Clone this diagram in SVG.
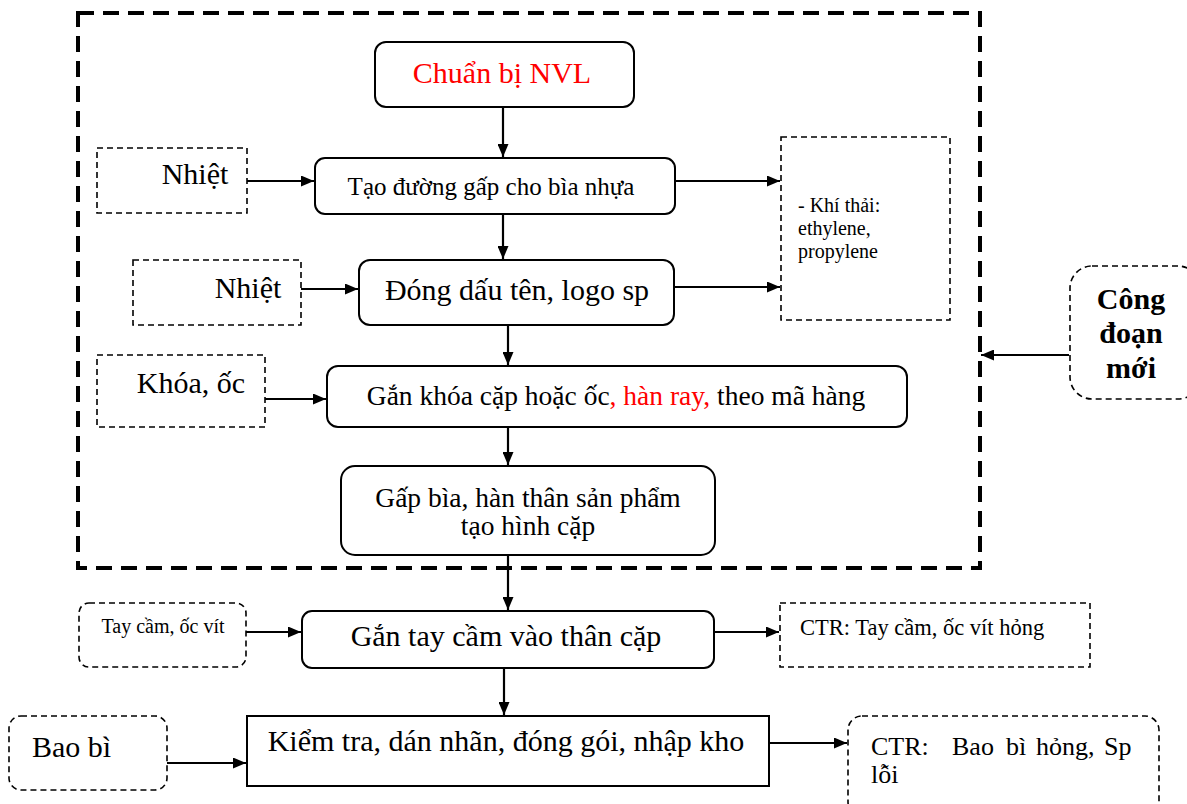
<svg xmlns="http://www.w3.org/2000/svg" width="1187" height="804" viewBox="0 0 1187 804">
<defs>
<marker id="ah" viewBox="0 0 13 11" refX="13" refY="5.5" markerWidth="13" markerHeight="11" markerUnits="userSpaceOnUse" orient="auto">
<path d="M0,0 L13,5.5 L0,11 Z" fill="#000"/>
</marker>
</defs>
<style>
text{font-family:"Liberation Serif","Times New Roman",serif;fill:#000}
.box{fill:#fff;stroke:#000;stroke-width:2}
.dbox{fill:#fff;stroke:#000;stroke-width:1.6;stroke-dasharray:6 4}
.frame{fill:none;stroke:#000;stroke-width:4;stroke-dasharray:16 9}
.c{stroke:#000;stroke-width:2.2;fill:none;marker-end:url(#ah)}
.red{fill:#f00}
.m{text-anchor:middle}
</style>
<rect width="1187" height="804" fill="#fff"/>
<g id="frame"><rect class="frame" x="78" y="13" width="902" height="555"/></g>

<g id="connectors">
<line class="c" x1="503" y1="107" x2="503" y2="157"/>
<line class="c" x1="247" y1="181" x2="314" y2="181"/>
<line class="c" x1="675" y1="181" x2="780" y2="181"/>
<line class="c" x1="503" y1="214" x2="503" y2="259"/>
<line class="c" x1="301" y1="289" x2="358" y2="289"/>
<line class="c" x1="675" y1="287" x2="780" y2="287"/>
<line class="c" x1="508" y1="325" x2="508" y2="365"/>
<line class="c" x1="265" y1="399" x2="326" y2="399"/>
<line class="c" x1="508" y1="427" x2="508" y2="465"/>
<line class="c" x1="508" y1="555" x2="508" y2="610"/>
<line class="c" x1="246" y1="632" x2="301" y2="632"/>
<line class="c" x1="714" y1="632" x2="779" y2="632"/>
<line class="c" x1="504" y1="668" x2="504" y2="715"/>
<line class="c" x1="167" y1="763" x2="246" y2="763"/>
<line class="c" x1="770" y1="743" x2="847" y2="743"/>
<line class="c" x1="1069" y1="355" x2="981" y2="355"/>
</g>

<g id="n-chuanbi"><rect class="box" x="375" y="42" width="259" height="65" rx="11"/><text class="red m" x="502" y="83" font-size="30">Chuẩn bị NVL</text></g>
<g id="n-taoduong"><rect class="box" x="315" y="158" width="360" height="56" rx="10"/><text class="m" x="491" y="195" font-size="25">Tạo đường gấp cho bìa nhựa</text></g>
<g id="n-nhiet1"><rect class="dbox" x="97" y="148" width="150" height="65"/><text class="m" x="195" y="184" font-size="30">Nhiệt</text></g>
<g id="n-khithai"><rect class="dbox" x="781" y="137" width="169" height="183"/><text x="798" y="212" font-size="20">- Khí thải:</text><text x="798" y="235" font-size="20">ethylene,</text><text x="798" y="258" font-size="20">propylene</text></g>
<g id="n-dongdau"><rect class="box" x="359" y="260" width="315" height="65" rx="11"/><text class="m" x="517" y="300" font-size="30">Đóng dấu tên, logo sp</text></g>
<g id="n-nhiet2"><rect class="dbox" x="133" y="260" width="168" height="65"/><text class="m" x="248" y="298" font-size="30">Nhiệt</text></g>
<g id="n-gankhoa"><rect class="box" x="327" y="366" width="580" height="61" rx="11"/><text class="m" x="616" y="405" font-size="27.5">Gắn khóa cặp hoặc ốc<tspan class="red">, hàn ray,</tspan> theo mã hàng</text></g>
<g id="n-khoaoc"><rect class="dbox" x="97" y="355" width="168" height="72"/><text class="m" x="191" y="393" font-size="30">Khóa, ốc</text></g>
<g id="n-gapbia"><rect class="box" x="341" y="466" width="374" height="89" rx="14"/><text class="m" x="528" y="507" font-size="27.5">Gấp bìa, hàn thân sản phẩm</text><text class="m" x="528" y="535" font-size="27.5">tạo hình cặp</text></g>
<g id="n-gantaycam"><rect class="box" x="302" y="611" width="412" height="57" rx="10"/><text class="m" x="506" y="646" font-size="30">Gắn tay cầm vào thân cặp</text></g>
<g id="n-taycam"><rect class="dbox" x="79" y="603" width="167" height="64" rx="10"/><text class="m" x="163" y="633" font-size="20">Tay cầm, ốc vít</text></g>
<g id="n-ctr1"><rect class="dbox" x="780" y="603" width="310" height="64"/><text x="800" y="635" font-size="22.5">CTR: Tay cầm, ốc vít hỏng</text></g>
<g id="n-kiemtra"><rect class="box" x="247" y="716" width="522" height="70"/><text class="m" x="506" y="751" font-size="30">Kiểm tra, dán nhãn, đóng gói, nhập kho</text></g>
<g id="n-baobi"><rect class="dbox" x="9" y="716" width="158" height="74" rx="12"/><text x="32" y="757" font-size="30">Bao bì</text></g>
<g id="n-ctr2"><rect class="dbox" x="848" y="716" width="311" height="100" rx="14"/><text y="755" font-size="26"><tspan x="871">CTR:</tspan><tspan x="952">Bao</tspan><tspan x="1006">bì</tspan><tspan x="1036">hỏng,</tspan><tspan x="1104">Sp</tspan></text><text x="871" y="783" font-size="26">lỗi</text></g>
<g id="n-congdoan"><rect class="dbox" x="1070" y="266" width="130" height="133" rx="22"/><text class="m" x="1131" y="309" font-size="30" font-weight="bold">Công</text><text class="m" x="1131" y="343" font-size="30" font-weight="bold">đoạn</text><text class="m" x="1131" y="378" font-size="30" font-weight="bold">mới</text></g>
</svg>
